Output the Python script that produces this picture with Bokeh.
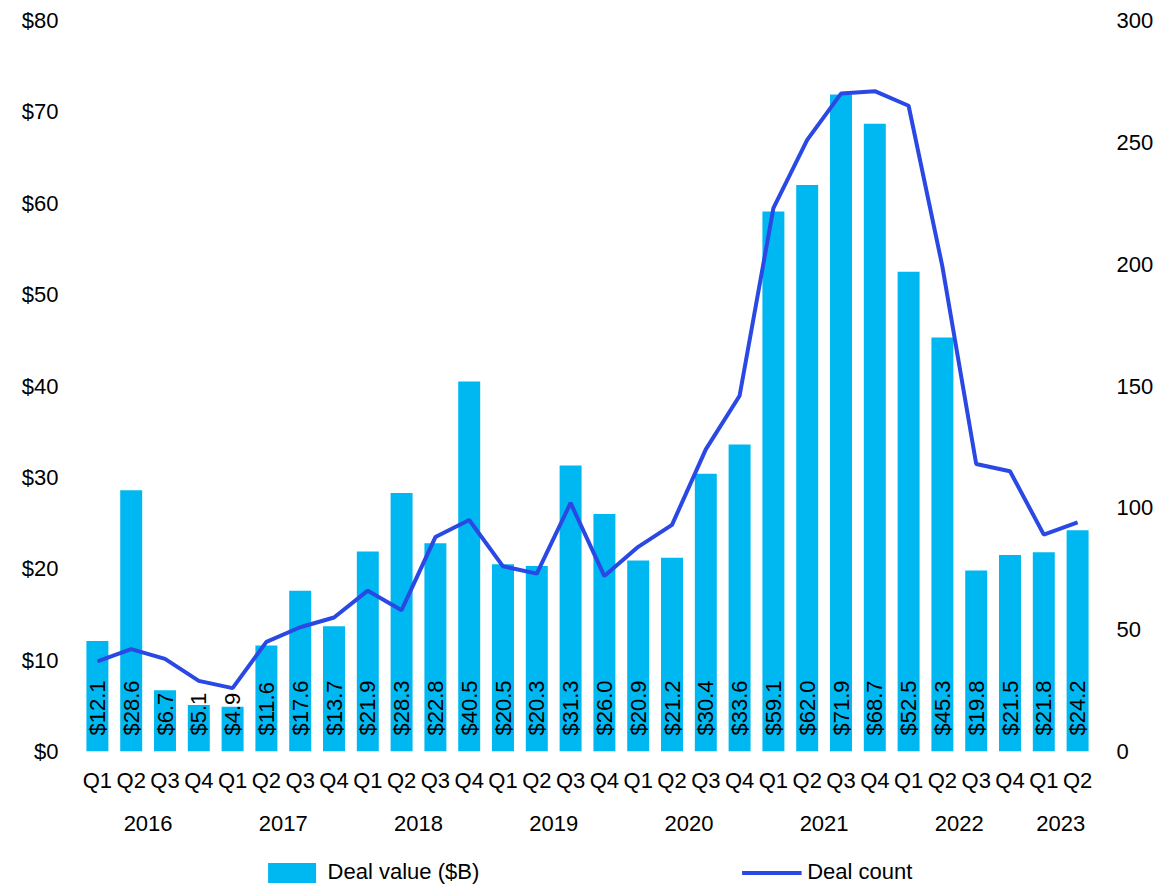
import math
from bokeh.plotting import figure
from bokeh.layouts import column
from bokeh.models import (Range1d, LinearAxis, FixedTicker, ColumnDataSource,
                          Legend, LegendItem)
from bokeh.core.properties import value
from bokeh.embed import file_html
from bokeh.resources import INLINE

quarters = ["Q1", "Q2", "Q3", "Q4"] * 7 + ["Q1", "Q2"]
years = [2016] * 4 + [2017] * 4 + [2018] * 4 + [2019] * 4 + [2020] * 4 + [2021] * 4 + [2022] * 4 + [2023] * 2
deal_value = [12.1, 28.6, 6.7, 5.1, 4.9, 11.6, 17.6, 13.7, 21.9, 28.3, 22.8, 40.5,
              20.5, 20.3, 31.3, 26.0, 20.9, 21.2, 30.4, 33.6, 59.1, 62.0, 71.9, 68.7,
              52.5, 45.3, 19.8, 21.5, 21.8, 24.2]
deal_count = [37, 42, 38, 29, 26, 45, 51, 55, 66, 58, 88, 95,
              76, 73, 102, 72, 84, 93, 124, 146, 223, 251, 270, 271,
              265, 199, 118, 115, 89, 94]
value_ticks = [0, 10, 20, 30, 40, 50, 60, 70, 80]
count_ticks = [0, 50, 100, 150, 200, 250, 300]
series_names = ["Deal value ($B)", "Deal count"]

FONT = "Liberation Sans"
FS = "22px"
BAR = "#00B8F1"
LINE = "#2A48E3"
W = 1156

idx = list(range(len(quarters)))
src = ColumnDataSource(dict(
    x=idx, v=deal_value, c=deal_count,
    lbl=[f"${v:.1f}" for v in deal_value],
))

p = figure(width=W, height=851, output_backend="svg", toolbar_location=None,
           x_range=Range1d(-0.5, len(idx) - 0.5), y_range=Range1d(0, 80),
           min_border_left=80, min_border_right=W - 1095, min_border_top=20,
           min_border_bottom=100)
p.outline_line_color = None
p.xgrid.visible = False
p.ygrid.visible = False
p.extra_y_ranges = {"count": Range1d(0, 300)}

def style_axis(ax, standoff):
    ax.axis_line_color = None
    ax.major_tick_line_color = None
    ax.minor_tick_line_color = None
    ax.major_tick_out = 0
    ax.major_tick_in = 0
    ax.minor_tick_out = 0
    ax.major_label_standoff = standoff
    ax.major_label_text_font = FONT
    ax.major_label_text_font_size = FS
    ax.major_label_text_color = "black"

# left axis
ly = p.yaxis[0]
ly.ticker = FixedTicker(ticks=value_ticks)
ly.major_label_overrides = {t: f"${t}" for t in value_ticks}
style_axis(ly, 22)

# right axis
ry = LinearAxis(y_range_name="count", ticker=FixedTicker(ticks=count_ticks))
style_axis(ry, 22)
p.add_layout(ry, "right")

# quarter axis
qx = p.xaxis[0]
qx.ticker = FixedTicker(ticks=idx)
qx.major_label_overrides = {i: q for i, q in zip(idx, quarters)}
style_axis(qx, 16)

# year axis
uniq_years = sorted(set(years))
year_pos = [sum(i for i in idx if years[i] == y) / sum(1 for i in idx if years[i] == y) for y in uniq_years]
yx = LinearAxis(ticker=FixedTicker(ticks=year_pos))
yx.major_label_overrides = {pos: str(y) for pos, y in zip(year_pos, uniq_years)}
style_axis(yx, 20)
p.add_layout(yx, "below")

p.vbar(x="x", top="v", width=0.65, source=src, fill_color=BAR, line_color=None)
p.line(x="x", y="c", source=src, y_range_name="count", line_color=LINE, line_width=4)

p.text(x="x", y=0, text="lbl", source=src, angle=math.pi / 2, text_align="left",
       text_baseline="middle", y_offset=-16, text_font=value(FONT),
       text_font_size=FS, text_color="black")

# legend strip below the chart (its renderers are hidden; only the legend shows)
lg = figure(width=W, height=34, output_backend="svg", toolbar_location=None,
            x_range=Range1d(-0.5, len(idx) - 0.5), y_range=Range1d(0, 80),
            x_axis_location=None, y_axis_location=None,
            min_border_left=18, min_border_right=0, min_border_top=8,
            min_border_bottom=0)
lg.outline_line_color = None
lg.xgrid.visible = False
lg.ygrid.visible = False
lb = lg.vbar(x="x", top="v", width=0.65, source=src, fill_color=BAR, line_color=None,
             visible=False)
ll = lg.line(x="x", y="c", source=src, line_color=LINE, line_width=4, visible=False)
legend = Legend(items=[LegendItem(label=series_names[0], renderers=[lb]),
                       LegendItem(label=series_names[1], renderers=[ll])],
                orientation="horizontal", location="center", spacing=262,
                glyph_width=60, glyph_height=25, label_standoff=6,
                label_text_font=FONT, label_text_font_size=FS,
                label_text_color="black",
                padding=0, margin=0, border_line_color=None,
                background_fill_alpha=0, inactive_fill_alpha=0)
lg.add_layout(legend, "center")

layout = column(p, lg, spacing=0)
open("out.html", "w").write(file_html(layout, INLINE))
